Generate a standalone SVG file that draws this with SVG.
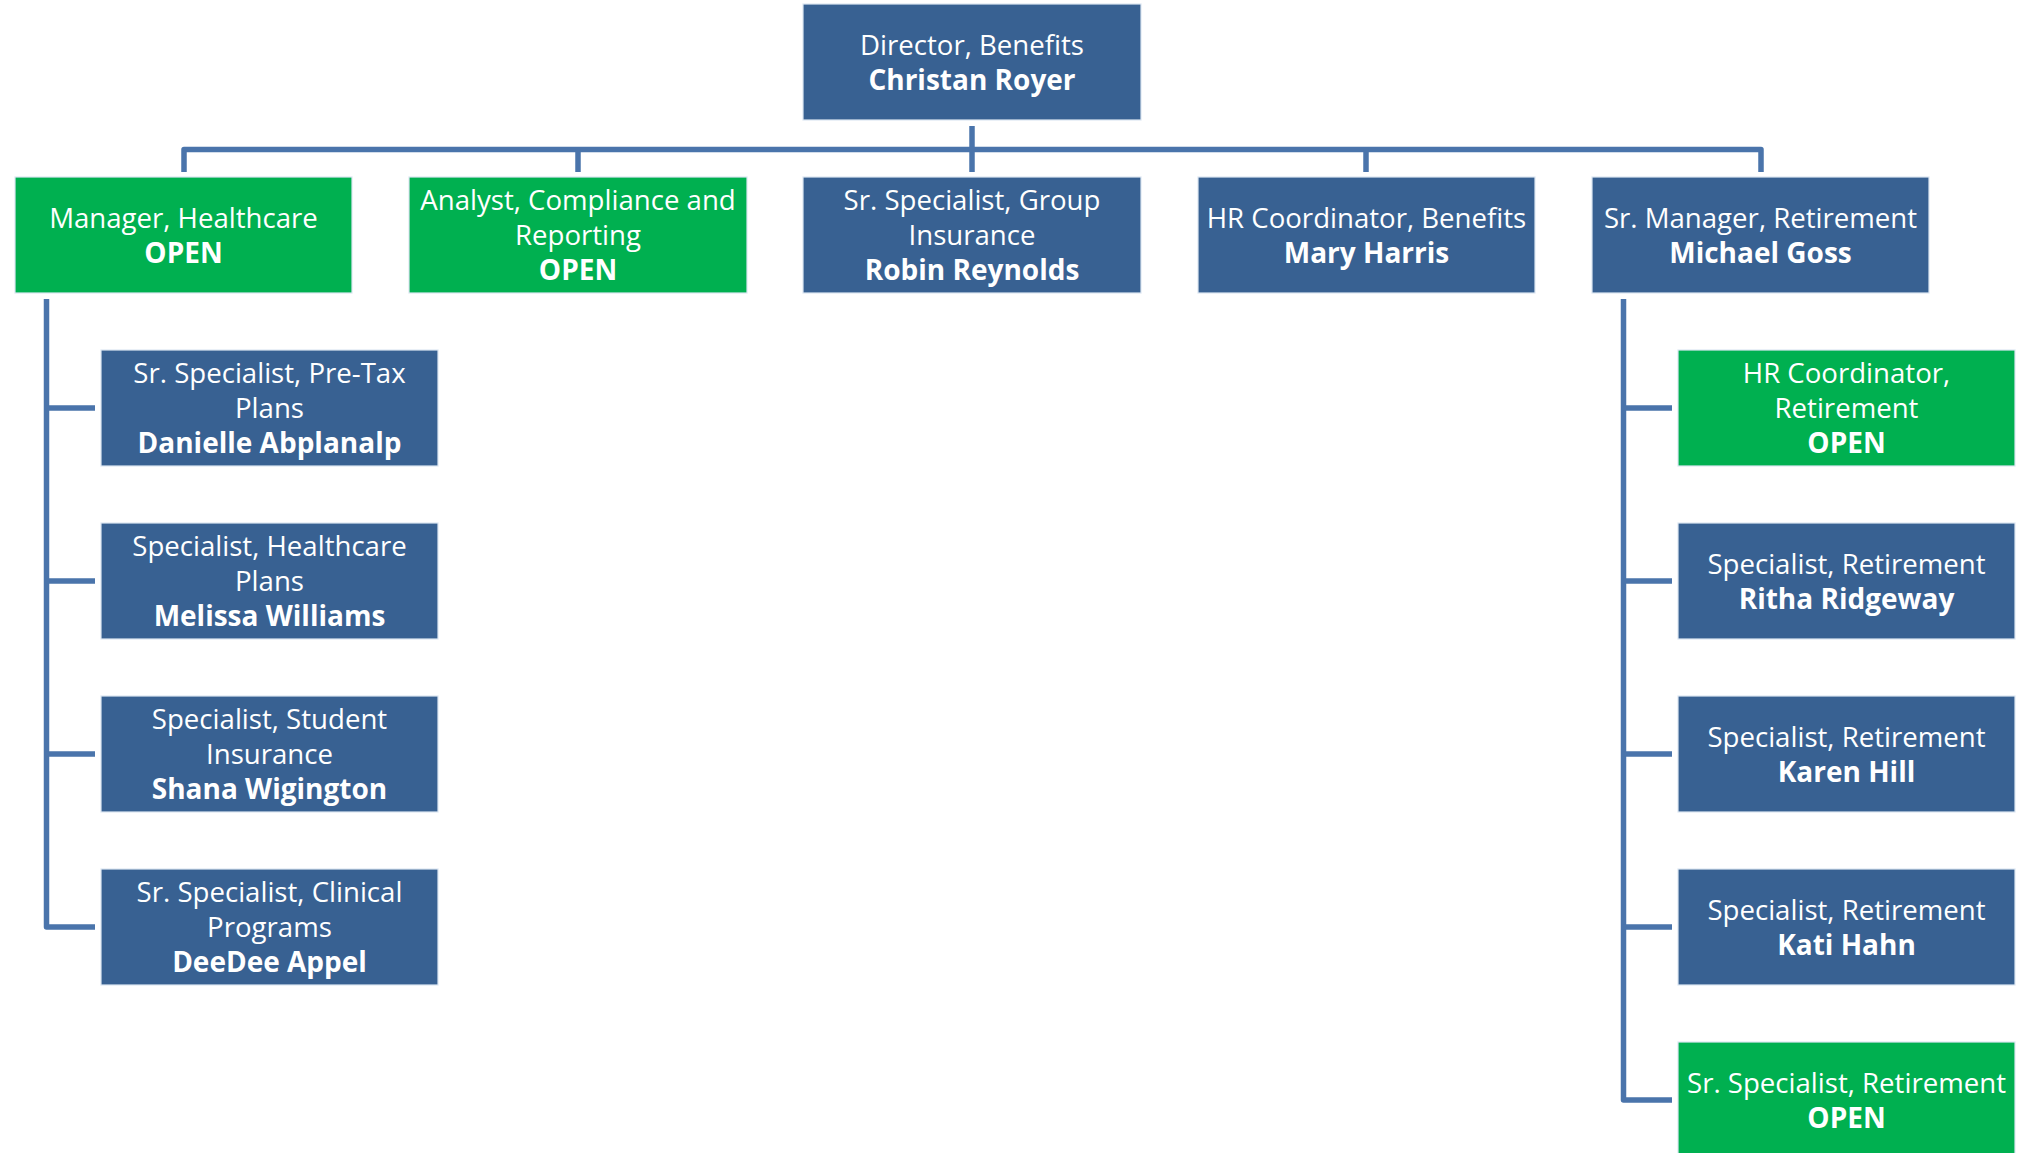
<svg xmlns="http://www.w3.org/2000/svg" width="2023" height="1153" viewBox="0 0 2023 1153">
<style>
.box rect{stroke:#dce6f2;stroke-width:1.2}
.blue rect{fill:#386192}
.green rect{fill:#00b050}
text{font-family:"Open Sans","Noto Sans","Liberation Sans",sans-serif;font-size:27.6px;fill:#ffffff;text-anchor:middle}
.b{font-weight:bold;font-size:28px}
.conn{fill:none;stroke:#4a74ab;stroke-width:5.5;stroke-linejoin:round}
</style>
<rect width="2023" height="1153" fill="#ffffff"/>
<g id="connectors">
<path class="conn" d="M972,126 V172"/>
<path class="conn" d="M184,172 V149.5 H1761 V172"/>
<path class="conn" d="M578,149.5 V172"/>
<path class="conn" d="M1366,149.5 V172"/>
<path class="conn" d="M46.5,299 V927 H95"/>
<path class="conn" d="M46.5,408 H95 M46.5,581 H95 M46.5,754 H95"/>
<path class="conn" d="M1623.5,299 V1100 H1672"/>
<path class="conn" d="M1623.5,408 H1672 M1623.5,581 H1672 M1623.5,754 H1672 M1623.5,927 H1672"/>
</g>
<g id="director" class="box blue">
<rect x="803" y="4" width="338" height="116"/>
<text x="972" y="55">Director, Benefits</text>
<text x="972" y="90" class="b">Christan Royer</text>
</g>
<g id="mgr-healthcare" class="box green">
<rect x="15" y="177" width="337" height="116"/>
<text x="183.5" y="228">Manager, Healthcare</text>
<text x="183.5" y="263" class="b">OPEN</text>
</g>
<g id="analyst-compliance" class="box green">
<rect x="409" y="177" width="338" height="116"/>
<text x="578" y="210">Analyst, Compliance and</text>
<text x="578" y="245">Reporting</text>
<text x="578" y="280" class="b">OPEN</text>
</g>
<g id="group-insurance" class="box blue">
<rect x="803" y="177" width="338" height="116"/>
<text x="972" y="210">Sr. Specialist, Group</text>
<text x="972" y="245">Insurance</text>
<text x="972" y="280" class="b">Robin Reynolds</text>
</g>
<g id="hr-coord-benefits" class="box blue">
<rect x="1198" y="177" width="337" height="116"/>
<text x="1366.5" y="228">HR Coordinator, Benefits</text>
<text x="1366.5" y="263" class="b">Mary Harris</text>
</g>
<g id="mgr-retirement" class="box blue">
<rect x="1592" y="177" width="337" height="116"/>
<text x="1760.5" y="228">Sr. Manager, Retirement</text>
<text x="1760.5" y="263" class="b">Michael Goss</text>
</g>
<g id="pretax" class="box blue">
<rect x="101" y="350" width="337" height="116"/>
<text x="269.5" y="383">Sr. Specialist, Pre-Tax</text>
<text x="269.5" y="418">Plans</text>
<text x="269.5" y="453" class="b">Danielle Abplanalp</text>
</g>
<g id="healthcare-plans" class="box blue">
<rect x="101" y="523" width="337" height="116"/>
<text x="269.5" y="556">Specialist, Healthcare</text>
<text x="269.5" y="591">Plans</text>
<text x="269.5" y="626" class="b">Melissa Williams</text>
</g>
<g id="student-insurance" class="box blue">
<rect x="101" y="696" width="337" height="116"/>
<text x="269.5" y="729">Specialist, Student</text>
<text x="269.5" y="764">Insurance</text>
<text x="269.5" y="799" class="b">Shana Wigington</text>
</g>
<g id="clinical-programs" class="box blue">
<rect x="101" y="869" width="337" height="116"/>
<text x="269.5" y="902">Sr. Specialist, Clinical</text>
<text x="269.5" y="937">Programs</text>
<text x="269.5" y="972" class="b">DeeDee Appel</text>
</g>
<g id="hr-coord-retirement" class="box green">
<rect x="1678" y="350" width="337" height="116"/>
<text x="1846.5" y="383">HR Coordinator,</text>
<text x="1846.5" y="418">Retirement</text>
<text x="1846.5" y="453" class="b">OPEN</text>
</g>
<g id="ret-ridgeway" class="box blue">
<rect x="1678" y="523" width="337" height="116"/>
<text x="1846.5" y="574">Specialist, Retirement</text>
<text x="1846.5" y="609" class="b">Ritha Ridgeway</text>
</g>
<g id="ret-hill" class="box blue">
<rect x="1678" y="696" width="337" height="116"/>
<text x="1846.5" y="747">Specialist, Retirement</text>
<text x="1846.5" y="782" class="b">Karen Hill</text>
</g>
<g id="ret-hahn" class="box blue">
<rect x="1678" y="869" width="337" height="116"/>
<text x="1846.5" y="920">Specialist, Retirement</text>
<text x="1846.5" y="955" class="b">Kati Hahn</text>
</g>
<g id="sr-ret-open" class="box green">
<rect x="1678" y="1042" width="337" height="116"/>
<text x="1846.5" y="1093">Sr. Specialist, Retirement</text>
<text x="1846.5" y="1128" class="b">OPEN</text>
</g>
</svg>
